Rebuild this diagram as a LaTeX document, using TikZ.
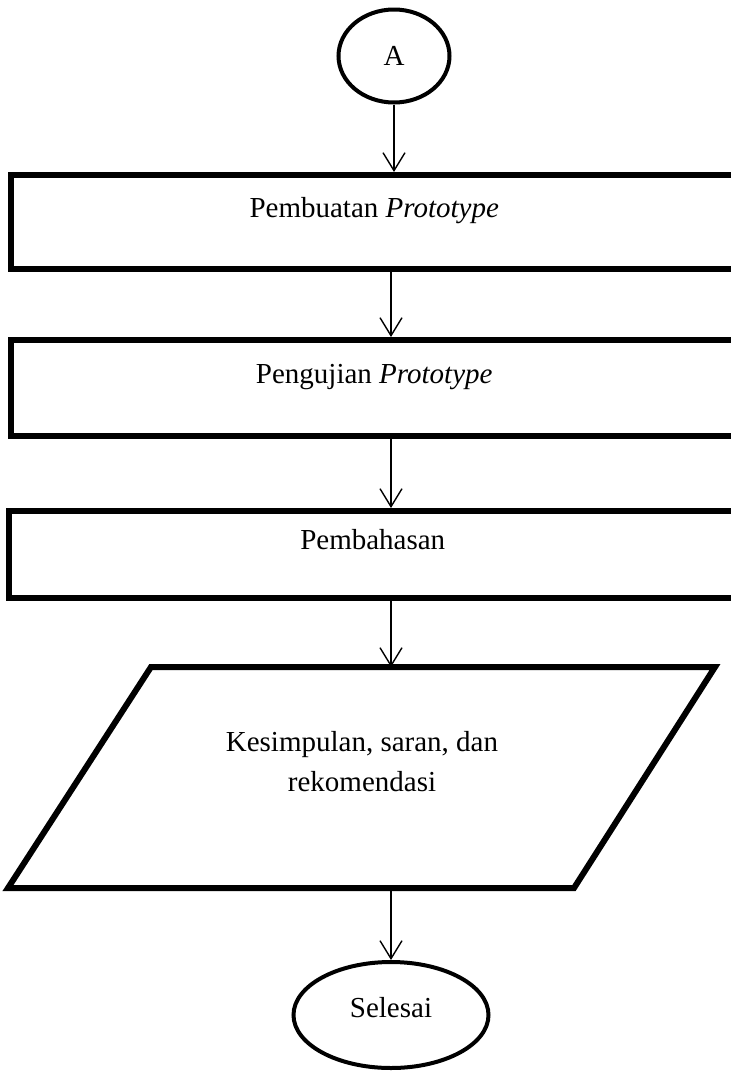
\documentclass[tikz,border=0pt]{standalone}
\usepackage{fontspec}
\setmainfont{Liberation Serif}
\usetikzlibrary{arrows.meta, positioning, calc, shapes.geometric}

\begin{document}
\begin{tikzpicture}[x=0.5pt, y=-0.5pt,
        font=\fontsize{14.5}{20}\selectfont,
        procbox/.style={draw, rectangle, line width=3pt, inner sep=0pt,
            minimum width=363pt, minimum height=47pt,
            text height=10pt, text depth=15pt},
        term/.style={draw, ellipse, line width=2pt, inner sep=0pt},
        iobox/.style={line width=3pt},
        flow/.style={-{Straight Barb[length=9pt,width=11pt]}, line width=0.7pt}]
        \useasboundingbox (0,0) rectangle (731,1072);
        \clip (0,0) rectangle (731,1072);

        \node[term, minimum width=55.5pt, minimum height=46.5pt] (A) at (394,56) {A};
        \node[procbox] (r1) at (374.25,222) {Pembuatan \textit{Prototype}};
        \node[procbox, minimum height=48pt] (r2) at (374.25,388) {Pengujian \textit{Prototype}};
        \node[procbox, minimum width=364.25pt, minimum height=43.5pt] (r3) at (372.75,554.5) {Pembahasan};
        % data box (parallelogram)
        \coordinate (io nw) at (151,667);
        \coordinate (io ne) at (715,667);
        \coordinate (io se) at (574,888);
        \coordinate (io sw) at (8,888);
        \draw[iobox] (io nw) -- (io ne) -- (io se) -- (io sw) -- cycle;
        \node[align=center] (io) at (362,762) {Kesimpulan, saran, dan\\rekomendasi};
        \node[term, minimum width=97.5pt, minimum height=53pt, text height=10pt, text depth=8pt] (sel) at (391,1015) {Selesai};

        \draw[flow] (A.south) -- (A.south |- r1.north);
        \draw[flow] (r1.south -| sel.north) -- (r2.north -| sel.north);
        \draw[flow] (r2.south -| sel.north) -- (r3.north -| sel.north);
        \draw[flow] (r3.south -| sel.north) -- (io nw -| sel.north);
        \draw[flow] (io sw -| sel.north) -- (sel.north);
\end{tikzpicture}
\end{document}
